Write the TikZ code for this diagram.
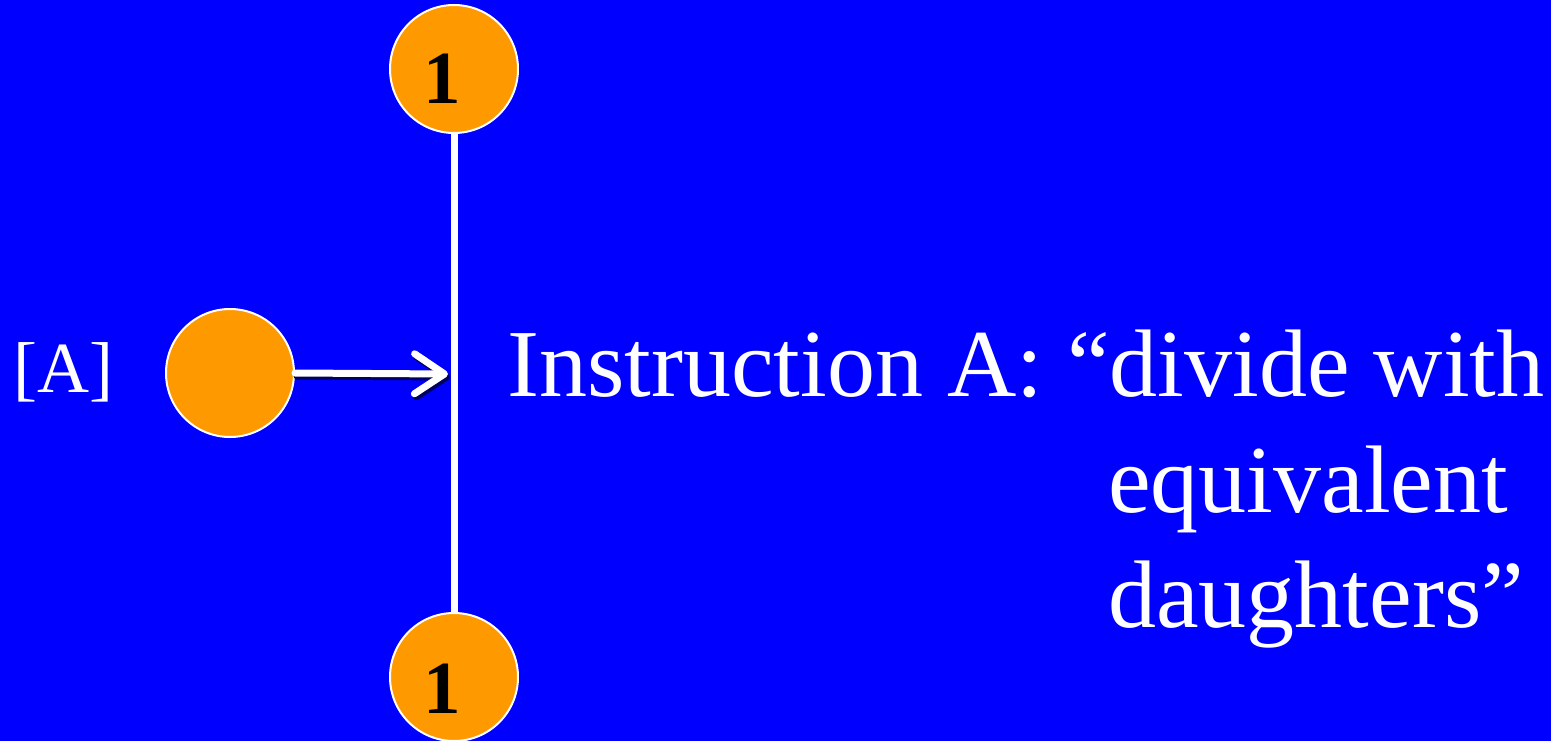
\documentclass[tikz,border=0pt]{standalone}
\usepackage{fontspec}
\setmainfont{Liberation Serif}
\usetikzlibrary{arrows.meta,positioning}
\definecolor{slideblue}{HTML}{0000FF}
\definecolor{cellorange}{HTML}{FF9900}
\definecolor{shadowblue}{HTML}{000060}
\tikzset{
  cell/.style={circle,fill=cellorange,draw=white,line width=2pt,minimum size=128pt,inner sep=0pt},
  cellnum/.style={anchor=base,inner sep=0pt,font=\fontsize{75}{75}\selectfont\bfseries},
  bigtext/.style={anchor=base west,inner sep=0pt,text=white,font=\fontsize{96}{115}\selectfont},
  axisline/.style={white,line width=7pt},
  feed/.style={white,line width=7pt,line cap=round,-{Straight Barb[length=30pt,width=40pt,round]}}
}
\begin{document}
\begin{tikzpicture}[x=1pt,y=-1pt]
\fill[slideblue] (0,0) rectangle (1551,741);
\useasboundingbox (0,0) rectangle (1551,741);
\node[cell] (topcell) at (454,69) {};
\node[cell] (botcell) at (454,677) {};
\node[cell] (leftcell) at (230,373) {};
\node[cellnum] (topnum) at (442,104) {1};
\node[cellnum] (botnum) at (442,713) {1};
\coordinate (hit) at (448,374);
\draw[axisline] (topcell.south) -- (botcell.north);
\draw[feed,shadowblue,transform canvas={shift={(2pt,-3pt)}}] (leftcell.east) -- (hit);
\draw[feed] (leftcell.east) -- (hit);
\node[anchor=base west,inner sep=0pt,text=white,font=\fontsize{72}{72}\selectfont] (tag) at (13,392) {[A]};
\node[bigtext] (line1) at (507,396) {Instruction A: “divide with};
\node[bigtext] (line2) at (1108,512) {equivalent};
\node[bigtext] (line3) at (1108,627) {daughters”};
\end{tikzpicture}
\end{document}
